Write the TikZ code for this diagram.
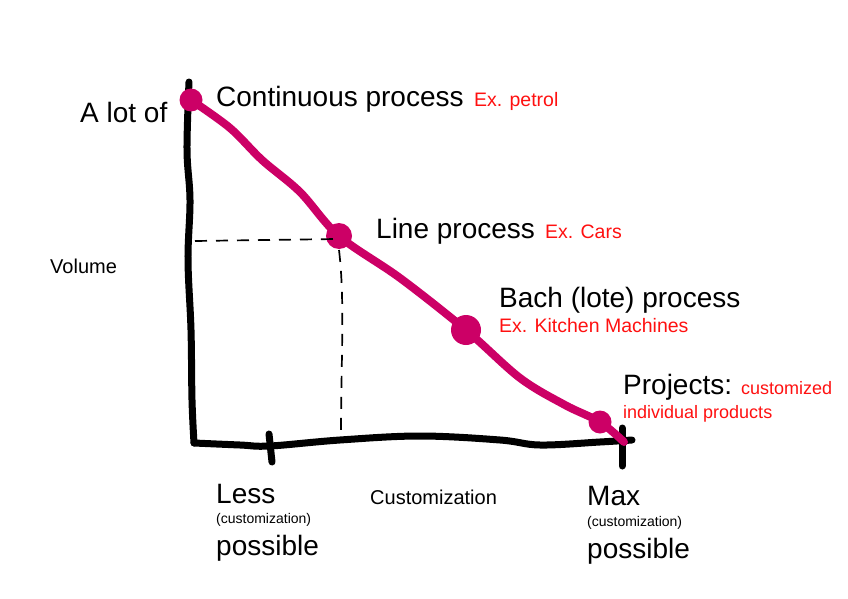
\documentclass[tikz,border=0pt]{standalone}
\usepackage{fontspec}
\setmainfont{Liberation Sans}
\definecolor{mag}{HTML}{CC0066}
\definecolor{exred}{HTML}{FF1010}
\begin{document}
\begin{tikzpicture}[x=1pt,y=-1pt,
  axis/.style={line width=7pt,line cap=round,line join=round,black},
  curveline/.style={line width=8pt,line cap=round,line join=round,mag},
  dot/.style={circle,fill=mag,inner sep=0pt,minimum size=#1},
  guide/.style={line width=1.7pt,dash pattern=on 12pt off 9pt,black},
  big/.style={font=\fontsize{28}{30}\selectfont,anchor=base west,inner sep=0pt},
  mid/.style={font=\fontsize{20}{22}\selectfont,anchor=base west,inner sep=0pt},
  ex/.style={font=\fontsize{19.5}{22}\selectfont,anchor=base west,inner sep=0pt,text=exred},
  exs/.style={font=\fontsize{18}{20}\selectfont,anchor=base west,inner sep=0pt,text=exred},
  tiny/.style={font=\fontsize{14}{16}\selectfont,anchor=base west,inner sep=0pt}]
\useasboundingbox (0,0) rectangle (848,599);
% axes
\coordinate (top) at (189,82);
\coordinate (origin) at (194,443);
\coordinate (xend) at (632,440);
\draw[axis] plot[smooth,tension=0.6] coordinates {(top) (187,150) (190,200) (188,260) (191,330) (192,400) (origin)};
\draw[axis] plot[smooth,tension=0.6] coordinates {(origin) (240,445) (270,446) (340,440) (420,436) (500,440) (540,445) (600,442) (xend)};
\coordinate (t1a) at (269,434); \coordinate (t1b) at (272,462);
\coordinate (t2a) at (622,428); \coordinate (t2b) at (622,466);
\draw[axis] (t1a) -- (t1b);
\draw[axis] (t2a) -- (t2b);
% dots
\node[dot=23pt] (d1) at (191,100) {};
\node[dot=26pt] (d2) at (339,236) {};
\node[dot=30pt] (d3) at (466,330) {};
\node[dot=23pt] (d4) at (600,422) {};
% dashed guides
\coordinate (g1) at (195,241);
\coordinate (g2) at (336,239);
\coordinate (g3) at (339,250);
\coordinate (g4) at (341,436);
\draw[guide] (g1) -- (g2);
\draw[guide] (g3) .. controls (345,300) and (341,360) .. (g4);
% curve
\coordinate (cend) at (624,442);
\draw[curveline] plot[smooth,tension=0.55] coordinates {(d1.center) (230,128) (262,160) (300,192) (d2.center) (400,278) (d3.center) (520,378) (565,405) (d4.center) (cend)};
% labels
\node[big] (alot) at (80,122) {A lot of};
\node[big] (cont) at (216,107) {Continuous process};
\node[ex] (petrol) at (474,107) {Ex. petrol};
\node[big] (line) at (376,238) {Line process};
\node[ex] (cars) at (545,238) {Ex. Cars};
\node[big] (bach) at (499,307) {Bach (lote) process};
\node[ex] (kitchen) at (499,332) {Ex. Kitchen Machines};
\node[big] (proj) at (623,394) {Projects:};
\node[exs] (cust1) at (741,394) {customized};
\node[exs] (cust2) at (623,418) {individual products};
\node[mid] (vol) at (50,273) {Volume};
\node[mid] (custx) at (370,504) {Customization};
\node[big] (less) at (216,503) {Less};
\node[tiny] (lessc) at (216,523) {(customization)};
\node[big] (lessp) at (216,555) {possible};
\node[big] (max) at (587,505) {Max};
\node[tiny] (maxc) at (587,526) {(customization)};
\node[big] (maxp) at (587,558) {possible};
\end{tikzpicture}
\end{document}
